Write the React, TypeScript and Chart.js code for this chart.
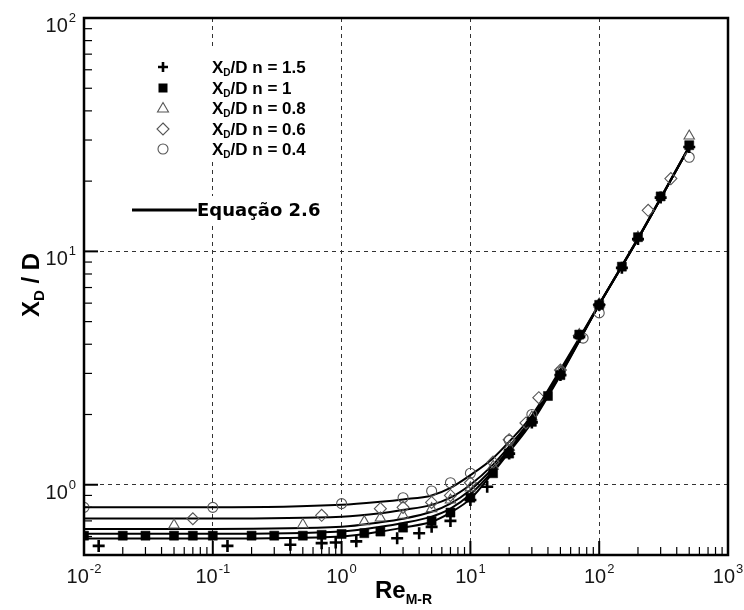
import React, { useEffect, useRef } from 'react';
import { Chart, registerables } from 'chart.js';

Chart.register(...registerables);

// ---- Fitted curves (Equação 2.6) ----
const fitRe = [0.01, 0.1, 1, 2, 3, 5, 7, 10, 15, 20, 30, 50, 100, 200, 500];
const fitN04 = [0.80, 0.80, 0.82, 0.845, 0.865, 0.90, 0.97, 1.10, 1.30, 1.53, 1.98, 3.12, 5.95, 11.4, 28.2];
const fitN06 = [0.717, 0.717, 0.73, 0.755, 0.78, 0.82, 0.88, 1.00, 1.22, 1.46, 1.93, 3.05, 5.93, 11.35, 28.1];
const fitN08 = [0.647, 0.647, 0.66, 0.69, 0.715, 0.766, 0.83, 0.95, 1.18, 1.42, 1.90, 3.00, 5.92, 11.3, 28.0];
const fitN10 = [0.616, 0.616, 0.63, 0.66, 0.685, 0.73, 0.79, 0.91, 1.15, 1.40, 1.88, 2.98, 5.90, 11.3, 28.0];
const fitN15 = [0.588, 0.588, 0.60, 0.63, 0.655, 0.694, 0.76, 0.87, 1.13, 1.38, 1.85, 2.95, 5.90, 11.3, 28.0];

// ---- Measured points ----
const reN15 = [0.013, 0.13, 0.4, 0.7, 0.9, 1.3, 2.7, 4, 5, 7, 10, 13.5, 20, 30, 50, 70, 100, 150, 200, 300, 500];
const xdN15 = [0.547, 0.547, 0.553, 0.562, 0.566, 0.572, 0.59, 0.62, 0.66, 0.70, 0.86, 0.98, 1.36, 1.85, 2.95, 4.3, 5.9, 8.5, 11.3, 17.0, 28.0];

const reN10 = [0.01, 0.02, 0.03, 0.05, 0.07, 0.1, 0.2, 0.3, 0.5, 0.7, 1, 1.5, 2, 3, 5, 7, 10, 15, 20, 30, 40, 50, 70, 100, 150, 200, 300, 500];
const xdN10 = [0.605, 0.605, 0.605, 0.605, 0.605, 0.605, 0.605, 0.605, 0.605, 0.61, 0.615, 0.62, 0.63, 0.655, 0.70, 0.76, 0.88, 1.12, 1.36, 1.86, 2.4, 2.95, 4.4, 5.9, 8.6, 11.5, 17.2, 28.5];

const reN08 = [0.05, 0.5, 1.5, 2, 3, 5, 7, 10, 15, 20, 30, 50, 70, 100, 200, 500];
const xdN08 = [0.672, 0.675, 0.695, 0.72, 0.74, 0.79, 0.86, 0.97, 1.2, 1.45, 1.95, 3.05, 4.4, 5.95, 11.5, 31.2];

const reN06 = [0.07, 0.7, 2, 3, 5, 7, 10, 15, 20, 27, 34, 50, 70, 100, 240, 360];
const xdN06 = [0.715, 0.74, 0.79, 0.80, 0.84, 0.90, 1.02, 1.25, 1.56, 1.84, 2.36, 3.1, 4.35, 5.9, 15.0, 20.5];

const reN04 = [0.01, 0.1, 1, 3, 5, 7, 10, 20, 30, 50, 75, 100, 500];
const xdN04 = [0.80, 0.80, 0.83, 0.88, 0.94, 1.02, 1.12, 1.55, 2.0, 3.05, 4.25, 5.45, 25.3];

// ---- Axes ----
const xMajorTicks = [0.01, 0.1, 1, 10, 100, 1000];
const xTickExponents = ['-2', '-1', '0', '1', '2', '3'];
const yMajorTicks = [1, 10, 100];
const yTickExponents = ['0', '1', '2'];
const legendLabels = ['n = 1.5', 'n = 1', 'n = 0.8', 'n = 0.6', 'n = 0.4'];
const legendStyles = ['cross', 'rectFilled', 'triangle', 'diamond', 'circle'];
const fitLabel = 'Equação 2.6';

const FONT = 'Liberation Sans, Arial, Helvetica, sans-serif';

const pts = (xs: number[], ys: number[]) => xs.map((x, i) => ({ x, y: ys[i] }));

function drawSymbol(ctx: CanvasRenderingContext2D, style: string, x: number, y: number) {
  ctx.save();
  ctx.beginPath();
  if (style === 'cross') {
    ctx.strokeStyle = '#000';
    ctx.lineWidth = 2.6;
    ctx.moveTo(x - 5, y); ctx.lineTo(x + 5, y);
    ctx.moveTo(x, y - 5); ctx.lineTo(x, y + 5);
    ctx.stroke();
  } else if (style === 'rectFilled') {
    ctx.fillStyle = '#000';
    ctx.fillRect(x - 4.5, y - 4.5, 9, 9);
  } else if (style === 'triangle') {
    ctx.strokeStyle = '#555';
    ctx.lineWidth = 1.1;
    ctx.moveTo(x, y - 5.5); ctx.lineTo(x + 5.5, y + 4); ctx.lineTo(x - 5.5, y + 4); ctx.closePath();
    ctx.stroke();
  } else if (style === 'diamond') {
    ctx.strokeStyle = '#555';
    ctx.lineWidth = 1.1;
    ctx.moveTo(x, y - 6); ctx.lineTo(x + 6, y); ctx.lineTo(x, y + 6); ctx.lineTo(x - 6, y); ctx.closePath();
    ctx.stroke();
  } else {
    ctx.strokeStyle = '#555';
    ctx.lineWidth = 1.1;
    ctx.arc(x, y, 5, 0, Math.PI * 2);
    ctx.stroke();
  }
  ctx.restore();
}

function drawPow(ctx: CanvasRenderingContext2D, exp: string, x: number, baseline: number, align: 'center' | 'right') {
  ctx.font = `20px ${FONT}`;
  const w1 = ctx.measureText('10').width;
  ctx.font = `13px ${FONT}`;
  const w2 = ctx.measureText(exp).width;
  const total = w1 + w2 + 1;
  const start = align === 'center' ? x - total / 2 : x - total;
  ctx.textAlign = 'left';
  ctx.textBaseline = 'alphabetic';
  ctx.font = `20px ${FONT}`;
  ctx.fillText('10', start, baseline);
  ctx.font = `13px ${FONT}`;
  ctx.fillText(exp, start + w1 + 1, baseline - 10);
}

function drawSubText(ctx: CanvasRenderingContext2D, parts: { t: string; size: number; dy: number }[], x: number, y: number, family: string) {
  let cx = x;
  for (const p of parts) {
    ctx.font = `bold ${p.size}px ${family}`;
    ctx.fillText(p.t, cx, y + p.dy);
    cx += ctx.measureText(p.t).width;
  }
  return cx - x;
}

function measureParts(ctx: CanvasRenderingContext2D, parts: { t: string; size: number; dy: number }[], family: string) {
  let w = 0;
  for (const p of parts) {
    ctx.font = `bold ${p.size}px ${family}`;
    w += ctx.measureText(p.t).width;
  }
  return w;
}

const overlayPlugin = {
  id: 'overlay',
  beforeDatasetsDraw(chart: any) {
    const ctx = chart.ctx as CanvasRenderingContext2D;
    ctx.save();
    ctx.fillStyle = '#fff';
    ctx.fillRect(150, 48, 182, 114);
    ctx.fillRect(126, 196, 206, 30);
    ctx.restore();
  },
  afterDraw(chart: any) {
    const ctx = chart.ctx as CanvasRenderingContext2D;
    const a = chart.chartArea;
    const xs = chart.scales.x;
    const ys = chart.scales.y;
    ctx.save();

    // inner tick marks (bottom and left)
    ctx.strokeStyle = '#000';
    for (let i = 0; i < xMajorTicks.length; i++) {
      const dec = xMajorTicks[i];
      for (let k = 1; k <= 9; k++) {
        if (i === xMajorTicks.length - 1 && k > 1) break;
        const v = dec * k;
        const px = xs.getPixelForValue(v);
        const len = k === 1 ? 14 : 8;
        ctx.lineWidth = k === 1 ? 2 : 1.2;
        ctx.beginPath();
        ctx.moveTo(px, a.bottom);
        ctx.lineTo(px, a.bottom - len);
        ctx.stroke();
      }
    }
    const yDecades = [0.1, 1, 10, 100];
    for (let i = 0; i < yDecades.length; i++) {
      const dec = yDecades[i];
      for (let k = 1; k <= 9; k++) {
        const v = dec * k;
        if (v < 0.55 || v > 100) continue;
        const py = ys.getPixelForValue(v);
        const len = k === 1 ? 14 : 8;
        ctx.lineWidth = k === 1 ? 2 : 1.2;
        ctx.beginPath();
        ctx.moveTo(a.left, py);
        ctx.lineTo(a.left + len, py);
        ctx.stroke();
      }
    }

    // frame
    ctx.lineWidth = 2.5;
    ctx.strokeStyle = '#000';
    ctx.strokeRect(a.left, a.top, a.right - a.left, a.bottom - a.top);

    // tick labels
    ctx.fillStyle = '#151515';
    xMajorTicks.forEach((v, i) => {
      drawPow(ctx, xTickExponents[i], xs.getPixelForValue(v), 583, 'center');
    });
    yMajorTicks.forEach((v, i) => {
      const py = ys.getPixelForValue(v);
      drawPow(ctx, yTickExponents[i], 76, py + 14, 'right');
    });

    // x axis title
    ctx.fillStyle = '#000';
    ctx.textAlign = 'left';
    ctx.textBaseline = 'alphabetic';
    const xt = [
      { t: 'Re', size: 24, dy: 0 },
      { t: 'M-R', size: 14, dy: 6 },
    ];
    drawSubText(ctx, xt, 375, 598, FONT);

    // y axis title (rotated)
    ctx.save();
    ctx.translate(39, 285);
    ctx.rotate(-Math.PI / 2);
    const yt = [
      { t: 'X', size: 24, dy: 0 },
      { t: 'D', size: 15, dy: 5 },
      { t: ' / D', size: 24, dy: 0 },
    ];
    const ytw = measureParts(ctx, yt, FONT);
    drawSubText(ctx, yt, -ytw / 2, 0, FONT);
    ctx.restore();

    // legend
    const rows = [67, 88, 108, 129, 149];
    legendLabels.forEach((lab, i) => {
      drawSymbol(ctx, legendStyles[i], 163, rows[i]);
      ctx.fillStyle = '#000';
      ctx.textBaseline = 'middle';
      ctx.textAlign = 'left';
      drawSubText(ctx, [
        { t: 'X', size: 17, dy: 0 },
        { t: 'D', size: 10, dy: 5 },
        { t: '/D ' + lab, size: 17, dy: 0 },
      ], 212, rows[i] + 1, FONT);
    });

    // fit legend entry
    ctx.strokeStyle = '#000';
    ctx.lineWidth = 3;
    ctx.beginPath();
    ctx.moveTo(132, 210);
    ctx.lineTo(197, 210);
    ctx.stroke();
    ctx.fillStyle = '#000';
    ctx.textBaseline = 'middle';
    ctx.font = `bold 18px "DejaVu Sans", sans-serif`;
    ctx.fillText(fitLabel, 197, 211);

    ctx.restore();
  },
};

export default function App() {
  const ref = useRef<HTMLCanvasElement | null>(null);

  useEffect(() => {
    if (!ref.current) return;
    const fit = (data: number[]) => ({
      type: 'line' as const,
      data: pts(fitRe, data),
      showLine: true,
      borderColor: '#000',
      borderWidth: 2,
      pointRadius: 0,
      cubicInterpolationMode: 'monotone' as const,
      fill: false,
    });
    const open = {
      backgroundColor: 'rgba(0,0,0,0)',
      borderColor: '#555',
      borderWidth: 1.1,
      showLine: false,
    };
    const chart = new Chart(ref.current, {
      type: 'scatter',
      data: {
        datasets: [
          { label: 'n = 1.5', data: pts(reN15, xdN15), pointStyle: 'cross', pointRadius: 6, borderColor: '#000', borderWidth: 2.6, showLine: false },
          { label: 'n = 1', data: pts(reN10, xdN10), pointStyle: 'rect', pointRadius: 6.4, backgroundColor: '#000', borderColor: '#000', borderWidth: 0.5, showLine: false },
          { label: 'n = 0.8', data: pts(reN08, xdN08), pointStyle: 'triangle', pointRadius: 6, ...open },
          { label: 'n = 0.6', data: pts(reN06, xdN06), pointStyle: 'rectRot', pointRadius: 6, ...open },
          { label: 'n = 0.4', data: pts(reN04, xdN04), pointStyle: 'circle', pointRadius: 5, ...open },
          { label: 'fit 0.4', ...fit(fitN04) },
          { label: 'fit 0.6', ...fit(fitN06) },
          { label: 'fit 0.8', ...fit(fitN08) },
          { label: 'fit 1', ...fit(fitN10) },
          { label: 'fit 1.5', ...fit(fitN15) },
        ] as any,
      },
      options: {
        animation: false,
        responsive: false,
        maintainAspectRatio: false,
        layout: { padding: { left: 84, right: 16, top: 18, bottom: 55 } },
        plugins: {
          legend: { display: false },
          tooltip: { enabled: false },
          title: { display: false },
        },
        scales: {
          x: {
            type: 'logarithmic',
            min: 0.01,
            max: 1000,
            afterBuildTicks: (axis: any) => {
              axis.ticks = xMajorTicks.map((v) => ({ value: v }));
            },
            ticks: { display: false },
            border: { display: false, dash: [4, 4] },
            grid: { drawTicks: false, color: '#333', lineWidth: 1 },
            title: { display: false },
          },
          y: {
            type: 'logarithmic',
            min: 0.5,
            max: 100,
            afterBuildTicks: (axis: any) => {
              axis.ticks = yMajorTicks.map((v) => ({ value: v }));
            },
            ticks: { display: false },
            border: { display: false, dash: [4, 4] },
            grid: { drawTicks: false, color: '#333', lineWidth: 1 },
            title: { display: false },
          },
        },
      } as any,
      plugins: [overlayPlugin],
    });
    return () => chart.destroy();
  }, []);

  return (
    <div style={{ position: 'fixed', left: 0, top: 0, width: 744, height: 610, background: '#fff', overflow: 'hidden' }}>
      <canvas ref={ref} width={744} height={610} style={{ display: 'block', width: 744, height: 610 }} />
    </div>
  );
}
